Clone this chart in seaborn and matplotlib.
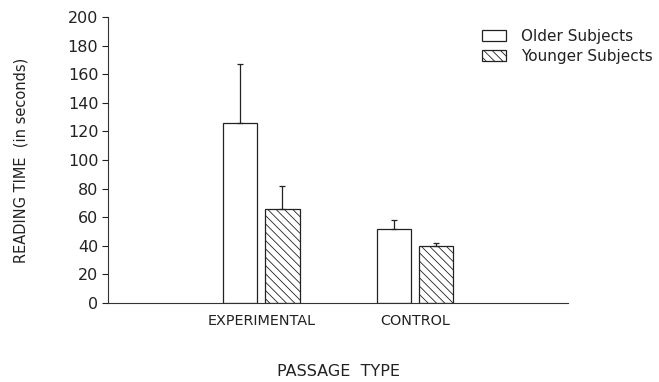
import matplotlib
matplotlib.use("Agg")
import matplotlib.pyplot as plt
import seaborn as sns
import pandas as pd
from matplotlib.patches import Patch

# data
passage = ["EXPERIMENTAL", "CONTROL"]
groups = ["Older Subjects", "Younger Subjects"]
older_mean = [126, 52]
younger_mean = [66, 40]
older_err = [41, 6]
younger_err = [16, 2]

df = pd.DataFrame({
    "passage": passage * 2,
    "group": [groups[0]] * 2 + [groups[1]] * 2,
    "time": older_mean + younger_mean,
})
errs = {groups[0]: older_err, groups[1]: younger_err}

sns.set_style("ticks")
plt.rcParams["font.family"] = ["DejaVu Sans"]
plt.rcParams["hatch.linewidth"] = 0.6
plt.rcParams["hatch.color"] = "#222222"

fig = plt.figure(figsize=(6.59, 3.82), dpi=100)
ax = fig.add_axes([0.164, 0.207, 0.698, 0.748])

sns.barplot(data=df, x="passage", y="time", hue="group", order=passage,
            hue_order=groups, palette=["white", "white"], width=0.55, gap=0.19,
            edgecolor="#222222", linewidth=0.9, errorbar=None, legend=False, ax=ax)

# hatch the younger bars and add upward error bars
for cont, g in zip(ax.containers, groups):
    for patch, e in zip(cont.patches, errs[g]):
        if g == groups[1]:
            patch.set_hatch("\\\\\\\\")
        cx = patch.get_x() + patch.get_width() / 2
        top = patch.get_height()
        ax.errorbar([cx], [top], yerr=[[0], [e]], fmt="none", ecolor="#222222",
                    elinewidth=0.9, capsize=2.5, capthick=0.9)

ax.set_xlim(-1, 2)
ax.set_ylim(0, 200)
ax.set_yticks(range(0, 201, 20))
ax.tick_params(axis="y", direction="out", length=4, width=0.8, labelsize=11.5, colors="#222222", pad=3)
ax.tick_params(axis="x", length=0, labelsize=10.4, colors="#222222", pad=8)
for s in ["top", "right"]:
    ax.spines[s].set_visible(False)
for s in ["left", "bottom"]:
    ax.spines[s].set_color("#333333")
    ax.spines[s].set_linewidth(0.8)

ax.set_ylabel("READING TIME  (in seconds)", fontsize=10.5, color="#222222", labelpad=28)
ax.set_xlabel("PASSAGE  TYPE", fontsize=11.5, color="#222222", labelpad=26)

handles = [Patch(facecolor="white", edgecolor="#222222", linewidth=0.9),
           Patch(facecolor="white", edgecolor="#222222", linewidth=0.9, hatch="\\\\\\\\")]
fig.legend(handles, groups, loc="upper left", bbox_to_anchor=(0.71, 0.96),
           frameon=False, fontsize=11, handlelength=1.6, handleheight=0.7,
           handletextpad=1.0, labelspacing=0.3, labelcolor="#222222")

fig.savefig("out.png", dpi=100)
